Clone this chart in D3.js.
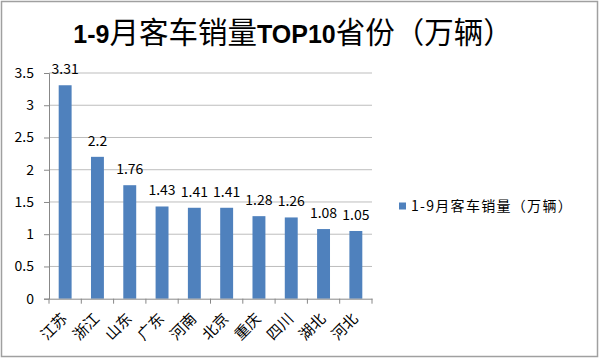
<!DOCTYPE html>
<html><head><meta charset="utf-8">
<script src="https://cdn.jsdelivr.net/npm/d3@7"></script>
<style>body{margin:0;background:#fff}svg{display:block}</style>
</head><body>
<svg id="c" width="600" height="359"></svg>
<script>
const categories = ["江苏","浙江","山东","广东","河南","北京","重庆","四川","湖北","河北"];
const values = [3.31,2.2,1.76,1.43,1.41,1.41,1.28,1.26,1.08,1.05];
const yTicks = [0,0.5,1,1.5,2,2.5,3,3.5];
const seriesName = "1-9月客车销量（万辆）";

const svg = d3.select("#c");
const font = "'Noto Sans CJK SC','Liberation Sans',sans-serif";
const latin = "'Liberation Sans',sans-serif";
svg.append("rect").attr("x",1.5).attr("y",1.5).attr("width",596).attr("height",355)
  .attr("fill","#fff").attr("stroke","#a0a0a0").attr("stroke-width",1.5);

// title
const t = svg.append("text").attr("x",293).attr("y",43).attr("text-anchor","middle")
  .attr("font-family",font).attr("font-size",29.5).attr("fill","#000");
t.append("tspan").attr("font-weight","bold").attr("font-family",latin).attr("font-size",25).text("1-9");
t.append("tspan").text("月客车销量");
t.append("tspan").attr("font-weight","bold").attr("font-family",latin).attr("font-size",25).text("TOP10");
t.append("tspan").text("省份（万辆）");

const x0=49, x1=372, yTop=73, yBot=298.7;
const x = d3.scaleBand().domain(categories).range([x0,x1]).paddingInner(0.6).paddingOuter(0.3);
const xb = d3.scaleBand().domain(categories).range([x0,x1]);
const y = d3.scaleLinear().domain([0,3.5]).range([yBot,yTop]);

// gridlines
svg.append("g").selectAll("line").data(yTicks.filter(d=>d>0)).join("line")
  .attr("x1",x0).attr("x2",x1).attr("y1",d=>y(d)).attr("y2",d=>y(d))
  .attr("stroke","#bdbdbd").attr("stroke-width",1);

// y axis
const ya = svg.append("g").attr("transform",`translate(${x0},0)`)
  .call(d3.axisLeft(y).tickValues(yTicks).tickFormat(d3.format("")).tickSize(5).tickPadding(10));
ya.select(".domain").attr("stroke","#888");
ya.selectAll(".tick line").attr("stroke","#888");
ya.selectAll("text").attr("font-family",font).attr("font-size",14).attr("fill","#000");

// bars
svg.append("g").selectAll("rect").data(values).join("rect")
  .attr("x",(d,i)=>x(categories[i])).attr("width",x.bandwidth())
  .attr("y",d=>y(d)).attr("height",d=>yBot-y(d)).attr("fill","#4f81bd");

// labels
svg.append("g").selectAll("text").data(values).join("text")
  .attr("x",(d,i)=>xb(categories[i])+xb.bandwidth()/2).attr("y",d=>y(d)-11)
  .attr("text-anchor","middle").attr("font-family",font).attr("font-size",14).attr("fill","#000")
  .text(d=>d);

// x axis
const xa = svg.append("g").attr("transform",`translate(0,${yBot})`)
  .call(d3.axisBottom(xb).tickSize(0).tickSizeOuter(0));
xa.select(".domain").attr("stroke","#888");
xa.selectAll(".tick text").attr("font-family",font).attr("font-size",15).attr("fill","#000")
  .attr("text-anchor","end").attr("x",0).attr("y",0).attr("dy",0)
  .attr("transform","translate(3,21) rotate(-45)");
const bounds = categories.map(c=>xb(c)).concat([x1]);
svg.append("g").selectAll("line").data(bounds).join("line")
  .attr("x1",d=>d).attr("x2",d=>d).attr("y1",yBot).attr("y2",yBot+5).attr("stroke","#888");

// legend
svg.append("rect").attr("x",399).attr("y",202.5).attr("width",7).attr("height",7).attr("fill","#4f81bd");
svg.append("text").attr("x",411).attr("y",211).attr("font-family",font).attr("font-size",14)
  .attr("letter-spacing",1.3).attr("fill","#000").text(seriesName);
</script>
</body></html>
